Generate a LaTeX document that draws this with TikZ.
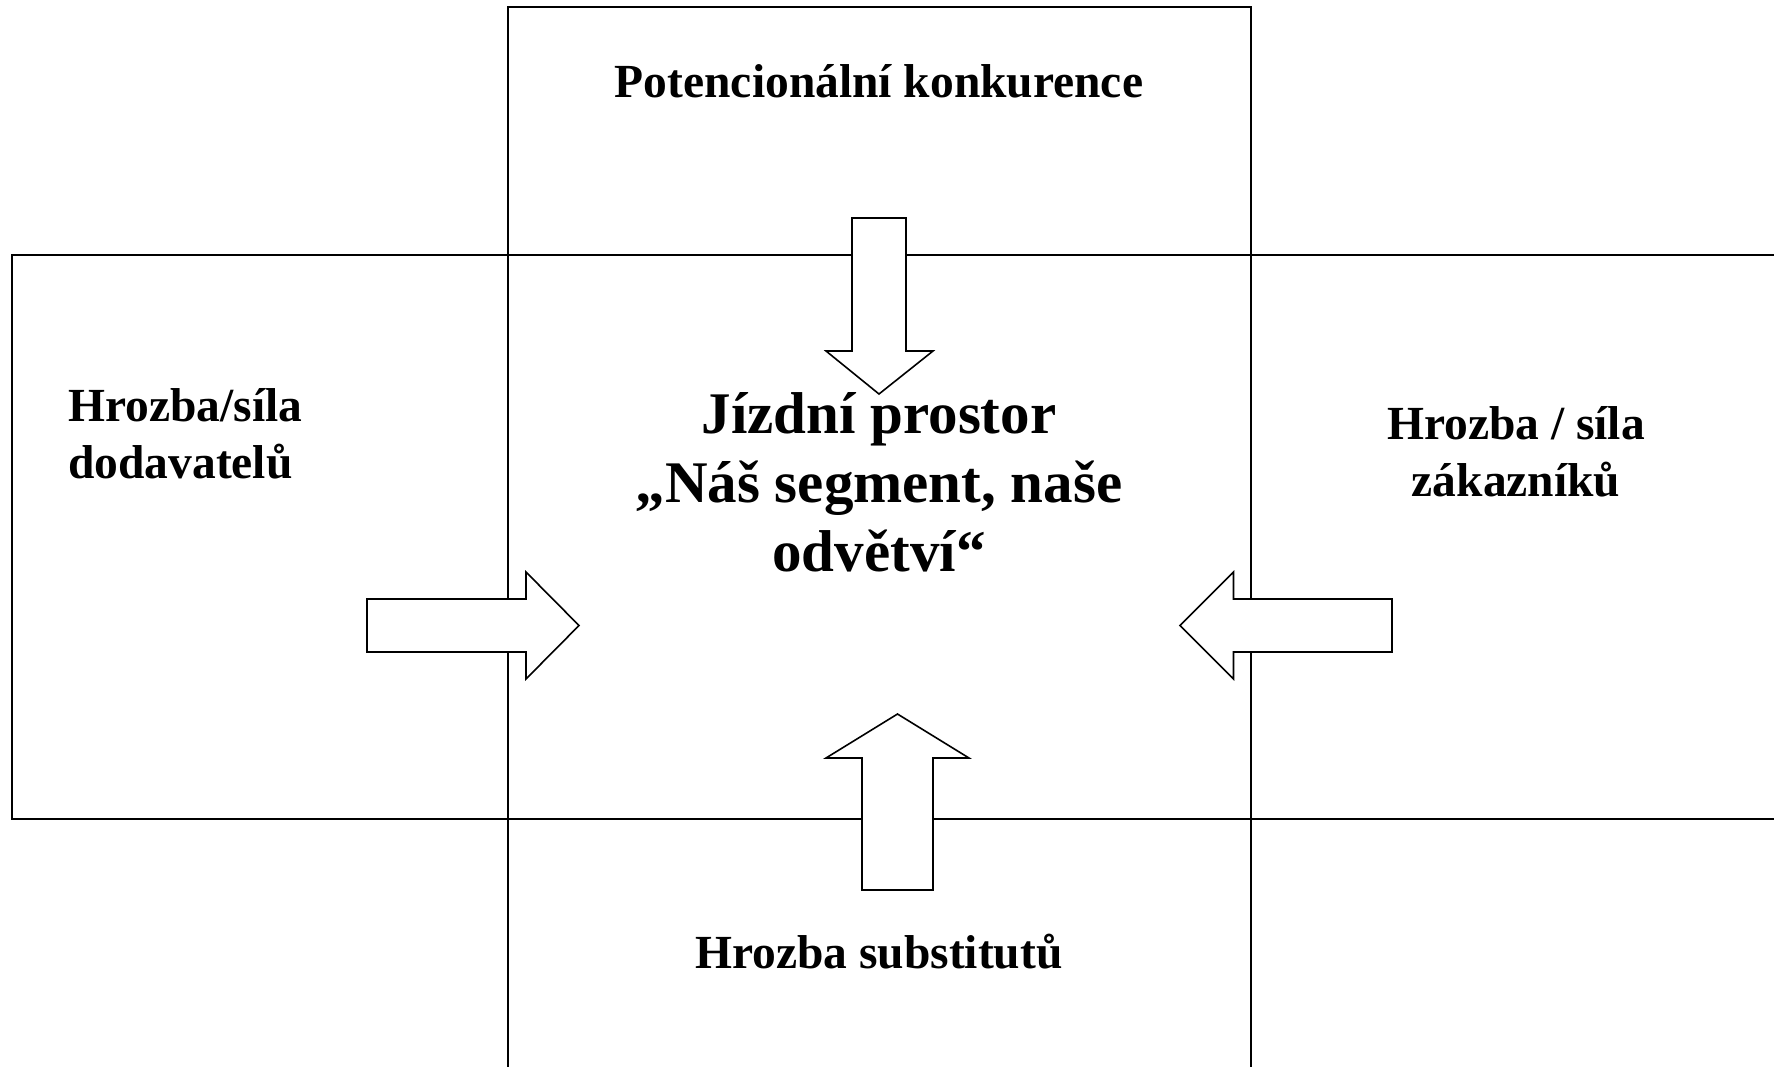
\documentclass[tikz,border=0pt]{standalone}
\usepackage{fontspec}
\setmainfont{Liberation Serif}
\begin{document}
\begin{tikzpicture}[x=1pt,y=-1pt,
  frame/.style={draw=black,line width=1.6pt},
  blockarrow/.style={draw=black,fill=white,line width=1.6pt,line join=miter},
  lbl/.style={font=\fontsize{47.5}{57}\selectfont\bfseries,inner sep=0pt},
  mainlbl/.style={font=\fontsize{59}{69}\selectfont\bfseries,inner sep=0pt}]
\useasboundingbox (0,0) rectangle (1774,1066);
\clip (0,0) rectangle (1774,1066);
\fill[white] (0,0) rectangle (1774,1066);
% frames
\draw[frame] (508,7) rectangle (1251,1090);
\draw[frame] (12,255) rectangle (1800,819);
% block arrows
\draw[blockarrow] (852,218) -- (906,218) -- (906,351) -- (933,351) -- (879,394) -- (826,351) -- (852,351) -- cycle;
\draw[blockarrow] (862,890) -- (862,758) -- (826,758) -- (897.5,714) -- (969,758) -- (933,758) -- (933,890) -- cycle;
\draw[blockarrow] (367,599) -- (526,599) -- (526,572) -- (579,625.5) -- (526,679) -- (526,652) -- (367,652) -- cycle;
\draw[blockarrow] (1392,599) -- (1233.5,599) -- (1233.5,572) -- (1180,625.5) -- (1233.5,679) -- (1233.5,652) -- (1392,652) -- cycle;
% labels
\node[lbl,anchor=base] (pot) at (879,97.5) {Potencionální konkurence};
\node[lbl,anchor=base] (sub) at (879,968.5) {Hrozba substitutů};
\node[lbl,anchor=base west,align=left] (dod) at (68,478) {Hrozba/síla\\dodavatelů};
\node[lbl,anchor=base,align=center] (zak) at (1516,496) {Hrozba / síla\\zákazníků};
\node[mainlbl,anchor=base,align=center] (main) at (879,571) {Jízdní prostor\\„Náš segment, naše\\odvětví“};
\end{tikzpicture}
\end{document}
